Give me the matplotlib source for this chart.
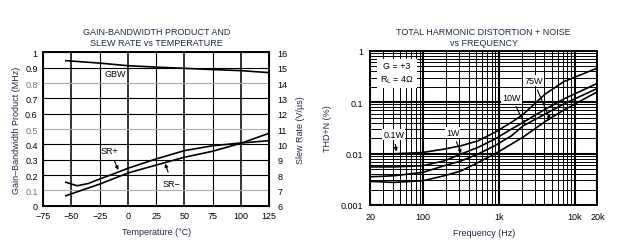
import numpy as np
import matplotlib
matplotlib.use("Agg")
import matplotlib.pyplot as plt
from matplotlib.ticker import FixedLocator, LogLocator, NullFormatter

plt.rcParams['font.family'] = ['Liberation Sans', 'DejaVu Sans']

# left chart: gain-bandwidth and slew rate vs temperature
gbw_temp = [-55, -25, 0, 25, 50, 75, 100, 125]
gbw_mhz = [0.946, 0.930, 0.913, 0.904, 0.896, 0.888, 0.881, 0.868]

srp_temp = [-55, -45, -35, -25, -10, 0, 25, 50, 75, 100, 125]
srp_vus = [7.53, 7.30, 7.45, 7.74, 8.15, 8.44, 9.05, 9.59, 9.91, 10.09, 10.24]

srn_temp = [-55, -25, 0, 25, 50, 75, 100, 125]
srn_vus = [6.65, 7.41, 8.13, 8.65, 9.16, 9.55, 10.07, 10.72]

temp_ticks = [-75, -50, -25, 0, 25, 50, 75, 100, 125]
temp_labels = ['\u221275', '\u221250', '\u221225', '0', '25', '50', '75', '100', '125']
gbw_ticks = [0, 0.1, 0.2, 0.3, 0.4, 0.5, 0.6, 0.7, 0.8, 0.9, 1]
gbw_labels = ['0', '0.1', '0.2', '0.3', '0.4', '0.5', '0.6', '0.7', '0.8', '0.9', '1']

# right chart: THD+N vs frequency
freq = [20, 41, 99, 190, 318, 531, 884, 1470, 2100, 4100, 7200, 20000]
thd_01w = [0.0098, 0.0099, 0.0105, 0.0122, 0.0142, 0.0177, 0.0258, 0.0405, 0.058, 0.144, 0.25, 0.46]
thd_1w = [0.0055, 0.0055, 0.0058, 0.0072, 0.0098, 0.0132, 0.0191, 0.030, 0.0405, 0.073, 0.115, 0.232]
thd_10w = [0.00354, 0.0037, 0.0043, 0.0058, 0.0072, 0.0098, 0.0142, 0.0222, 0.0347, 0.0587, 0.092, 0.185]
thd_75w = [0.00288, 0.00275, 0.00296, 0.0037, 0.0046, 0.0067, 0.0098, 0.0153, 0.021, 0.042, 0.07, 0.159]

freq_ticks = [20, 100, 1000, 10000, 20000]
freq_labels = ['20', '100', '1k', '10k', '20k']
thd_ticks = [0.001, 0.01, 0.1, 1]
thd_labels = ['0.001', '0.01', '0.1', '1']

txt = '#1f2a44'
fs = 6.5

fig = plt.figure(figsize=(6.2, 2.53), dpi=100)

# ---------- left
ax1 = fig.add_axes([0.0698, 0.183, 0.364, 0.606])
ax1.set_xlim(-75, 125)
ax1.set_ylim(0, 1)
ax1.xaxis.set_major_locator(FixedLocator(temp_ticks))
ax1.set_xticklabels(temp_labels)
ax1.yaxis.set_major_locator(FixedLocator(gbw_ticks))
ax1.set_yticklabels(gbw_labels)
ax1.tick_params(length=0, labelsize=fs, pad=4)
# grid drawn by hand so some lines can be heavier, like the scanned original
for t in temp_ticks[1:-1]:
    heavy = t in (-50, 0, 50, 100)
    ax1.axvline(t, color='#333333' if heavy else 'black', lw=1.4 if heavy else 0.8, zorder=0.5)
for g in gbw_ticks[1:-1]:
    faint = g in (0.1, 0.5, 0.8)
    ax1.axhline(g, color='#aaaaaa' if faint else 'black', lw=0.8, zorder=0.5)
for lbl, g in zip(ax1.get_yticklabels(), gbw_ticks):
    if g in (0.1, 0.5, 0.8):
        lbl.set_color('#777777')
for s in ax1.spines.values():
    s.set_linewidth(1.4)
ax1.plot(gbw_temp, gbw_mhz, color='black', lw=1.2)
ax1.set_xlabel('Temperature (\u00b0C)', fontsize=fs, color=txt, labelpad=5)
ax1.set_ylabel('Gain\u2013Bandwidth Product (MHz)', fontsize=fs, color=txt, labelpad=3)
ax1.text(-11, 0.86, 'GBW', fontsize=fs, ha='center', va='center')

ax2 = ax1.twinx()
ax2.set_ylim(6, 16)
ax2.yaxis.set_major_locator(FixedLocator(range(6, 17)))
ax2.tick_params(length=0, labelsize=fs, pad=6)
ax2.plot(srp_temp, srp_vus, color='black', lw=1.2)
ax2.plot(srn_temp, srn_vus, color='black', lw=1.2)
ax2.set_ylabel('Slew Rate (V/\u00b5s)', fontsize=fs, color=txt, labelpad=6)
ax2.annotate('SR+', xy=(-8.5, 8.33), xytext=(-16, 9.63), fontsize=fs, ha='center', va='center',
             arrowprops=dict(arrowstyle='-|>', color='black', lw=0.8, mutation_scale=5, shrinkA=3, shrinkB=0))
ax2.annotate('SR\u2212', xy=(33, 8.75), xytext=(39, 7.46), fontsize=fs, ha='center', va='center',
             arrowprops=dict(arrowstyle='-|>', color='black', lw=0.8, mutation_scale=5, shrinkA=3, shrinkB=0))
fig.text(0.252, 0.85, 'GAIN-BANDWIDTH PRODUCT AND\nSLEW RATE vs TEMPERATURE', fontsize=fs,
         color=txt, ha='center', va='center', linespacing=1.3)

# ---------- right
ax3 = fig.add_axes([0.597, 0.1858, 0.3666, 0.610])
ax3.set_xscale('log')
ax3.set_yscale('log')
ax3.set_xlim(20, 20000)
ax3.set_ylim(0.001, 1)
ax3.xaxis.set_major_locator(FixedLocator(freq_ticks))
ax3.set_xticklabels(freq_labels)
ax3.xaxis.set_minor_locator(LogLocator(base=10, subs=np.arange(2, 10)))
ax3.xaxis.set_minor_formatter(NullFormatter())
ax3.yaxis.set_major_locator(FixedLocator(thd_ticks))
ax3.set_yticklabels(thd_labels)
ax3.yaxis.set_minor_locator(LogLocator(base=10, subs=np.arange(2, 10)))
ax3.yaxis.set_minor_formatter(NullFormatter())
ax3.grid(True, which='major', color='black', lw=1.5)
ax3.grid(True, which='minor', color='black', lw=0.7)
ax3.tick_params(which='both', length=0, labelsize=fs, pad=5)
for s in ax3.spines.values():
    s.set_linewidth(1.4)
for y in [thd_01w, thd_1w, thd_10w, thd_75w]:
    ax3.plot(freq, y, color='black', lw=1.2)
ax3.set_xlabel('Frequency (Hz)', fontsize=fs, color=txt, labelpad=5)
ax3.set_ylabel('THD+N (%)', fontsize=fs, color=txt, labelpad=6)

arrow = dict(arrowstyle='-|>', color='black', lw=0.8, mutation_scale=5, shrinkA=3, shrinkB=0)
lab = dict(fontsize=fs, ha='center', va='center',
           bbox=dict(boxstyle='square,pad=0.1', fc='white', ec='none'))
ax3.annotate('75W', xy=(4770, 0.045), xytext=(2860, 0.26), arrowprops=arrow, **lab)
ax3.annotate('10W', xy=(2210, 0.036), xytext=(1470, 0.124), arrowprops=arrow, **lab)
ax3.annotate('1W', xy=(318, 0.0101), xytext=(245, 0.0258), arrowprops=arrow, **lab)
ax3.annotate('0.1W', xy=(44.5, 0.011), xytext=(40.9, 0.0232), arrowprops=arrow, **lab)
ax3.text(0.117, 0.855, 'G = +3\nR$_\\mathrm{L}$ = 4\u03a9', transform=ax3.transAxes, fontsize=fs,
         ha='center', va='center', linespacing=1.5,
         bbox=dict(boxstyle='square,pad=0.35', fc='white', ec='none'))
fig.text(0.78, 0.85, 'TOTAL HARMONIC DISTORTION + NOISE\nvs FREQUENCY', fontsize=fs,
         color=txt, ha='center', va='center', linespacing=1.3)

fig.savefig('out.png', dpi=100)
